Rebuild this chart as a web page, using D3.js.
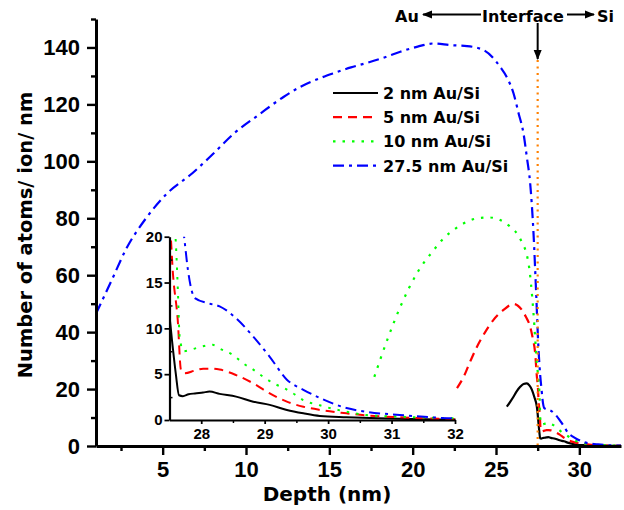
<!DOCTYPE html>
<html>
<head>
<meta charset="utf-8">
<script src="https://cdn.jsdelivr.net/npm/d3@7"></script>
<style>
  body { margin: 0; background: #fff; }
  svg { display: block; }
  .tick text { font-family: "Liberation Sans", Arial, sans-serif; font-weight: bold; fill: #000; }
  .lbl { font-family: "DejaVu Sans", sans-serif; font-weight: bold; fill: #000; }
</style>
</head>
<body>
<svg id="chart" width="624" height="510"></svg>
<script>
// series names
const seriesNames = ['2 nm Au/Si', '5 nm Au/Si', '10 nm Au/Si', '27.5 nm Au/Si'];

// 2 nm Au/Si
const depth2 = [25.65, 25.85, 26.05, 26.25, 26.45, 26.65, 26.85, 27.0, 27.15, 27.3, 27.45, 27.5, 27.55, 27.6, 27.65, 27.71, 27.8, 27.9, 28.03, 28.13, 28.29, 28.55, 28.82, 29.08, 29.35, 29.61, 29.87, 30.29, 30.8, 31.3, 32.0, 32.5];
const atoms2 = [13.8, 15.5, 17.3, 19.3, 20.8, 21.8, 22.0, 21.3, 19.8, 17.2, 13.8, 11.3, 8.0, 5.0, 2.7, 2.6, 2.8, 2.9, 3.0, 3.1, 2.85, 2.55, 2.0, 1.65, 1.1, 0.73, 0.44, 0.3, 0.18, 0.1, 0.05, 0.03];

// 5 nm Au/Si
const depth5 = [22.66, 23.06, 23.46, 23.86, 24.35, 24.85, 25.45, 26.05, 26.55, 26.8, 27.05, 27.2, 27.35, 27.45, 27.52, 27.55, 27.63, 27.68, 27.74, 27.9, 28.03, 28.15, 28.29, 28.55, 28.82, 29.08, 29.35, 29.61, 29.87, 30.29, 30.6, 31.1, 31.9, 32.5];
const atoms5 = [20.3, 24.3, 29.8, 34.9, 40.0, 44.3, 47.8, 49.9, 47.8, 45.3, 41.9, 38.0, 32.6, 24.5, 20.0, 16.4, 10.9, 5.5, 5.1, 5.4, 5.6, 5.6, 5.5, 4.9, 4.0, 2.9, 2.0, 1.45, 1.1, 0.73, 0.5, 0.3, 0.12, 0.05];

// 10 nm Au/Si
const depth10 = [17.7, 18.47, 19.26, 20.26, 21.26, 21.86, 22.46, 23.26, 23.9, 24.55, 25.2, 25.85, 26.45, 26.95, 27.25, 27.45, 27.6, 27.63, 27.66, 27.72, 27.85, 28.0, 28.18, 28.29, 28.5, 28.66, 28.82, 28.98, 29.14, 29.3, 29.45, 29.6, 29.87, 30.29, 30.6, 31.13, 31.87, 32.5];
const atoms10 = [24.3, 37.2, 48.9, 60.7, 68.8, 73.0, 75.9, 78.8, 80.0, 80.3, 79.5, 77.0, 72.8, 64.2, 46.6, 29.0, 19.3, 14.5, 9.1, 7.5, 7.7, 8.0, 8.2, 7.8, 7.1, 6.2, 5.5, 4.7, 4.0, 3.5, 2.9, 2.2, 1.6, 0.9, 0.55, 0.36, 0.2, 0.1];

// 27.5 nm Au/Si
const depth27 = [1.0, 2.0, 2.79, 4.0, 5.28, 6.78, 8.0, 9.28, 10.8, 12.27, 13.27, 14.47, 15.27, 16.3, 17.27, 18.3, 19.26, 20.3, 21.26, 22.3, 23.26, 24.25, 25.25, 25.7, 26.05, 26.35, 26.65, 26.85, 27.05, 27.25, 27.4, 27.55, 27.65, 27.74, 27.79, 27.9, 28.13, 28.29, 28.55, 28.82, 29.08, 29.35, 29.61, 29.87, 30.29, 30.6, 31.13, 31.87, 32.5];
const atoms27 = [46.5, 59, 69, 80, 88.8, 95.8, 102.5, 109.8, 116.5, 122.7, 126.2, 129.3, 131, 133, 134.6, 136.5, 138.5, 140.3, 141.4, 140.8, 140.5, 139.1, 133.2, 129, 123.9, 117, 109.8, 101.5, 92.3, 74.8, 55, 34, 25, 19.4, 16.4, 13.3, 12.7, 12.4, 11.1, 9.1, 6.9, 4.4, 3.3, 2.4, 1.3, 0.9, 0.55, 0.2, 0.1];

// interface marker
const interfaceDepth = 27.5;
const interfaceTop = 135.6;

// ticks
const yTicks = [0, 20, 40, 60, 80, 100, 120, 140];
const yMinor = [10, 30, 50, 70, 90, 110, 130, 150];
const xTicks = [5, 10, 15, 20, 25, 30];
const xMinor = [2.5, 7.5, 12.5, 17.5, 22.5, 27.5];
const insetYTicks = [0, 5, 10, 15, 20];
const insetYMinor = [2.5, 7.5, 12.5, 17.5];
const insetXTicks = [28, 29, 30, 31, 32];
const insetXMinor = [28.5, 29.5, 30.5, 31.5];

const colors = ['#000000', '#ff0000', '#00ff00', '#0000ff'];
const dashes = [null, '9,6', '2.5,7', '11,5,3,5'];

const series = [
  {depth: depth2, val: atoms2},
  {depth: depth5, val: atoms5},
  {depth: depth10, val: atoms10},
  {depth: depth27, val: atoms27}
].map((s, i) => ({
  name: seriesNames[i],
  color: colors[i],
  dash: dashes[i],
  pts: s.depth.map((d, j) => [d, s.val[j]])
}));

const svg = d3.select('#chart');

// main scales
const x = d3.scaleLinear().domain([1, 32.5]).range([96, 621]);
const y = d3.scaleLinear().domain([0, 150]).range([446, 19]);

// inset scales
const xi = d3.scaleLinear().domain([27.5, 32]).range([169.5, 455]);
const yi = d3.scaleLinear().domain([0, 20]).range([420, 236.7]);

const defs = svg.append('defs');
defs.append('clipPath').attr('id', 'clipMain')
  .append('rect').attr('x', 96).attr('y', 19).attr('width', 525).attr('height', 427);
defs.append('clipPath').attr('id', 'clipInset')
  .append('rect').attr('x', 169.5).attr('y', 236.7).attr('width', 286).attr('height', 183.3);
defs.append('marker').attr('id', 'arrow')
  .attr('viewBox', '0 0 10 10').attr('refX', 9).attr('refY', 5)
  .attr('markerWidth', 10).attr('markerHeight', 10).attr('markerUnits', 'userSpaceOnUse')
  .attr('orient', 'auto')
  .append('path').attr('d', 'M0,1 L10,5 L0,9 Z').attr('fill', '#000');

// main curves
const lineMain = d3.line().x(d => x(d[0])).y(d => y(d[1])).curve(d3.curveMonotoneX);
const gMain = svg.append('g').attr('clip-path', 'url(#clipMain)');
series.forEach(s => {
  gMain.append('path')
    .attr('d', lineMain(s.pts))
    .attr('fill', 'none')
    .attr('stroke', s.color)
    .attr('stroke-width', 2.2)
    .attr('stroke-dasharray', s.dash);
});

// interface line
gMain.append('line')
  .attr('x1', x(interfaceDepth)).attr('x2', x(interfaceDepth))
  .attr('y1', y(interfaceTop)).attr('y2', y(0))
  .attr('stroke', '#ff8000').attr('stroke-width', 2.2)
  .attr('stroke-dasharray', '2,4.5');

// main axes
function styleAxis(g, w, fs) {
  g.select('.domain').attr('stroke-width', w);
  g.selectAll('.tick line').attr('stroke-width', w * 0.8);
  g.selectAll('.tick text').style('font-size', fs + 'px');
}

const gy = svg.append('g').attr('transform', 'translate(96,0)')
  .call(d3.axisLeft(y).tickValues(yTicks).tickSize(9).tickSizeOuter(0).tickPadding(7));
styleAxis(gy, 3, 22);
svg.append('g').attr('transform', 'translate(96,0)')
  .call(d3.axisLeft(y).tickValues(yMinor).tickSize(5).tickFormat('').tickSizeOuter(0))
  .call(g => g.select('.domain').remove())
  .selectAll('.tick line').attr('stroke-width', 2.4);

const gx = svg.append('g').attr('transform', 'translate(0,446)')
  .call(d3.axisBottom(x).tickValues(xTicks).tickSize(9).tickSizeOuter(0).tickPadding(6));
styleAxis(gx, 3, 22);
svg.append('g').attr('transform', 'translate(0,446)')
  .call(d3.axisBottom(x).tickValues(xMinor).tickSize(5).tickFormat('').tickSizeOuter(0))
  .call(g => g.select('.domain').remove())
  .selectAll('.tick line').attr('stroke-width', 2.4);

// inset curves
const lineInset = d3.line().x(d => xi(d[0])).y(d => yi(d[1])).curve(d3.curveMonotoneX);
const gIn = svg.append('g').attr('clip-path', 'url(#clipInset)');
series.forEach(s => {
  gIn.append('path')
    .attr('d', lineInset(s.pts.filter(p => p[0] >= 27.3)))
    .attr('fill', 'none')
    .attr('stroke', s.color)
    .attr('stroke-width', 2)
    .attr('stroke-dasharray', s.dash);
});

// inset axes
const giy = svg.append('g').attr('transform', 'translate(169.5,0)')
  .call(d3.axisLeft(yi).tickValues(insetYTicks).tickSize(5).tickSizeOuter(0).tickPadding(2));
styleAxis(giy, 2.2, 15);
svg.append('g').attr('transform', 'translate(169.5,0)')
  .call(d3.axisLeft(yi).tickValues(insetYMinor).tickSize(-3).tickFormat('').tickSizeOuter(0))
  .call(g => g.select('.domain').remove())
  .selectAll('.tick line').attr('stroke-width', 1.5);

const gix = svg.append('g').attr('transform', 'translate(0,420)')
  .call(d3.axisBottom(xi).tickValues(insetXTicks).tickFormat(d3.format('d'))
    .tickSize(4).tickSizeOuter(0).tickPadding(4));
styleAxis(gix, 2.2, 15);
svg.append('g').attr('transform', 'translate(0,420)')
  .call(d3.axisBottom(xi).tickValues(insetXMinor).tickSize(3).tickFormat('').tickSizeOuter(0))
  .call(g => g.select('.domain').remove())
  .selectAll('.tick line').attr('stroke-width', 1.5);

// legend
const leg = svg.append('g').attr('transform', 'translate(333,93)');
series.forEach((s, i) => {
  const row = leg.append('g').attr('transform', 'translate(0,' + (i * 24.2) + ')');
  row.append('line')
    .attr('x1', 0).attr('x2', 45).attr('y1', 0).attr('y2', 0)
    .attr('stroke', s.color).attr('stroke-width', 2.2)
    .attr('stroke-dasharray', s.dash);
  row.append('text')
    .attr('class', 'lbl')
    .attr('x', 50).attr('y', 6)
    .style('font-size', '16px')
    .text(s.name);
});

// top annotation
svg.append('text').attr('class', 'lbl').attr('x', 395).attr('y', 21.5).style('font-size', '16px').text('Au');
svg.append('text').attr('class', 'lbl').attr('x', 523).attr('y', 21.5).attr('text-anchor', 'middle').style('font-size', '16px').text('Interface');
svg.append('text').attr('class', 'lbl').attr('x', 597).attr('y', 21.5).style('font-size', '16px').text('Si');
[[481, 423, 14.5, 14.5], [567, 594, 14.5, 14.5], [x(interfaceDepth), x(interfaceDepth), 23, 59]].forEach(a => {
  svg.append('line')
    .attr('x1', a[0]).attr('x2', a[1]).attr('y1', a[2]).attr('y2', a[3])
    .attr('stroke', '#000').attr('stroke-width', 2)
    .attr('marker-end', 'url(#arrow)');
});

// axis titles
svg.append('text').attr('class', 'lbl')
  .attr('transform', 'translate(32,235) rotate(-90)')
  .attr('text-anchor', 'middle')
  .style('font-size', '19.5px')
  .text('Number of atoms/ ion/ nm');

svg.append('text').attr('class', 'lbl')
  .attr('x', 327).attr('y', 501)
  .attr('text-anchor', 'middle')
  .style('font-size', '20px')
  .text('Depth (nm)');
</script>
</body>
</html>
